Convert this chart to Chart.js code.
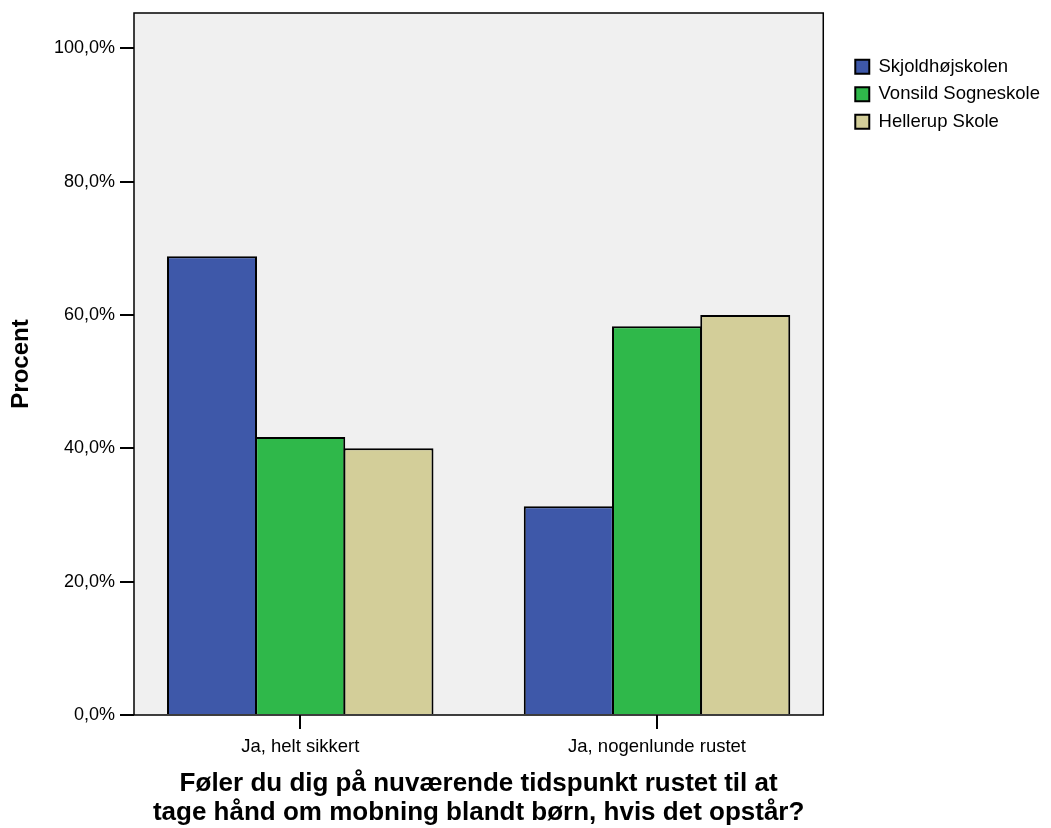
<!DOCTYPE html>
<html>
<head>
<meta charset="utf-8">
<script src="https://cdn.jsdelivr.net/npm/chart.js@4"></script>
<style>
  body { margin: 0; background: #fff; }
  #wrap { width: 1051px; height: 828px; }
</style>
</head>
<body>
<div id="wrap"><canvas id="chart"></canvas></div>
<script>
const categories = ['Ja, helt sikkert', 'Ja, nogenlunde rustet'];
const schools = ['Skjoldhøjskolen', 'Vonsild Sogneskole', 'Hellerup Skole'];
const skjoldhoej = [68.8, 31.3];
const vonsild = [41.7, 58.3];
const hellerup = [40.0, 60.0];
const colors = ['#3e58a9', '#2fb84a', '#d3ce99'];
const yTicks = [0, 20, 40, 60, 80, 100];

const font = 'Liberation Sans, Arial, sans-serif';

// grey plot background + frame
const plotFrame = {
    id: 'plotFrame',
    beforeDraw(chart) {
        const a = chart.chartArea;
        const ctx = chart.ctx;
        ctx.save();
        ctx.fillStyle = '#f0f0f0';
        ctx.fillRect(a.left, a.top, a.right - a.left, a.bottom - a.top);
        ctx.restore();
    },
    afterDraw(chart) {
        const a = chart.chartArea;
        const ctx = chart.ctx;
        ctx.save();
        ctx.strokeStyle = '#000';
        ctx.lineWidth = 1.5;
        ctx.strokeRect(a.left, a.top, a.right - a.left, a.bottom - a.top);
        ctx.restore();
    }
};

function toPoints(values) {
    return values.map((v, i) => ({ x: i, y: v }));
}

const seriesValues = [skjoldhoej, vonsild, hellerup];
const datasets = schools.map((name, i) => ({
    label: name,
    data: toPoints(seriesValues[i]),
    backgroundColor: colors[i],
    borderColor: '#000',
    borderWidth: 2,
    xAxisID: 'x',
    yAxisID: 'y'
}));

new Chart(document.getElementById('chart').getContext('2d'), {
    type: 'bar',
    data: { datasets: datasets },
    options: {
        responsive: true,
        maintainAspectRatio: false,
        animation: false,
        layout: { padding: { top: 13, right: 1, bottom: 0, left: 4 } },
        datasets: {
            bar: { categoryPercentage: 0.742, barPercentage: 1.02 }
        },
        scales: {
            x: {
                type: 'linear',
                min: -0.466,
                max: 1.466,
                offset: false,
                afterBuildTicks: s => { s.ticks = categories.map((c, i) => ({ value: i })); },
                afterFit: s => { s.height = 113; },
                grid: { drawOnChartArea: false, offset: false, tickLength: 14, color: '#000', lineWidth: 2 },
                border: { display: false },
                ticks: {
                    autoSkip: false,
                    maxRotation: 0,
                    padding: 7,
                    color: '#000',
                    font: { family: font, size: 18.5 },
                    callback: v => categories[v]
                },
                title: {
                    display: true,
                    text: ['Føler du dig på nuværende tidspunkt rustet til at', 'tage hånd om mobning blandt børn, hvis det opstår?'],
                    color: '#000',
                    font: { family: font, size: 26, weight: 'bold', lineHeight: 1.1 },
                    padding: { top: 0, bottom: 1 }
                }
            },
            y: {
                min: 0,
                max: 105.3,
                afterBuildTicks: s => { s.ticks = yTicks.map(v => ({ value: v })); },
                afterFit: s => { s.width = 130; },
                grid: { drawOnChartArea: false, tickLength: 14, color: '#000', lineWidth: 2 },
                border: { display: false },
                ticks: {
                    padding: 5,
                    color: '#000',
                    font: { family: font, size: 18, lineHeight: 0.8 },
                    callback: v => v.toFixed(1).replace('.', ',') + '%'
                },
                title: {
                    display: true,
                    text: 'Procent',
                    color: '#000',
                    font: { family: font, size: 24, weight: 'bold' },
                    padding: { top: 3, bottom: 0 }
                }
            },
            gap: {
                type: 'linear',
                position: 'right',
                grid: { display: false },
                border: { display: false },
                ticks: { display: false },
                afterFit: s => { s.width = 23; }
            }
        },
        plugins: {
            legend: {
                position: 'right',
                align: 'start',
                maxWidth: 240,
                title: {
                    display: true,
                    text: ' ',
                    font: { family: font, size: 12 },
                    padding: { top: 0, bottom: 21 }
                },
                labels: {
                    boxWidth: 14,
                    boxHeight: 14,
                    padding: 9,
                    color: '#000',
                    font: { family: font, size: 18.5 }
                }
            },
            tooltip: { enabled: false }
        }
    },
    plugins: [plotFrame]
});
</script>
</body>
</html>
